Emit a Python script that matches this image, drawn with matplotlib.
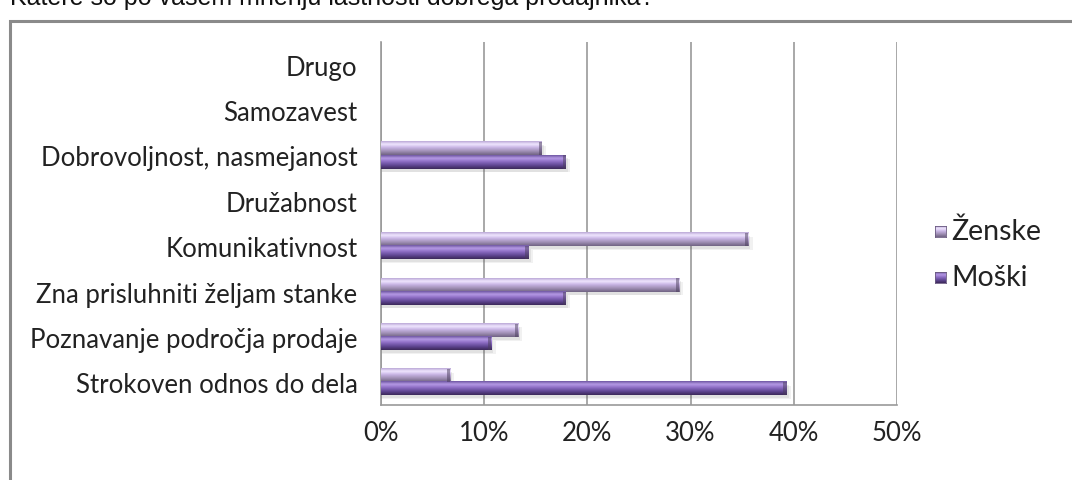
import numpy as np
import matplotlib
matplotlib.use("Agg")
import matplotlib.pyplot as plt
from matplotlib.colors import LinearSegmentedColormap
from matplotlib.patches import Rectangle

# Survey answers, bottom to top
categories = [
    "Strokoven odnos do dela",
    "Poznavanje področja prodaje",
    "Zna prisluhniti željam stanke",
    "Komunikativnost",
    "Družabnost",
    "Dobrovoljnost, nasmejanost",
    "Samozavest",
    "Drugo",
]
zenske = [0.067, 0.133, 0.289, 0.356, 0.0, 0.156, 0.0, 0.0]
moski = [0.393, 0.107, 0.179, 0.143, 0.0, 0.179, 0.0, 0.0]
x_ticks = [0.0, 0.1, 0.2, 0.3, 0.4, 0.5]
x_tick_labels = ["0%", "10%", "20%", "30%", "40%", "50%"]
series_names = ["Ženske", "Moški"]
title = "Katere so po vašem mnenju lastnosti dobrega prodajnika?"

W, H = 1072, 481
fig = plt.figure(figsize=(W / 100, H / 100), dpi=100)
fig.patch.set_facecolor("white")

label_font = "Lato"
label_size = 18.5

# Outer chart frame (runs off the right and bottom edges)
fig.patches.append(Rectangle((10 / W, -0.05), 1.2, 1 - 22 / H + 0.05,
                             transform=fig.transFigure, fill=False,
                             edgecolor="#8a8a8a", lw=2.2, zorder=0))
fig.text(10 / W, 1 - 5.5 / H, title, fontsize=18, family="Liberation Sans",
         va="baseline", ha="left", color="#111111")

ax = fig.add_axes([381 / W, 1 - 406 / H, 516 / W, 363 / H])
ax.set_facecolor("none")

# vertical gradients for the bevelled bars (bottom -> top)
cmap_z = LinearSegmentedColormap.from_list(
    "z", [(0.0, "#6f6282"), (0.25, "#9c8cb0"), (0.55, "#c9b5e6"),
          (0.78, "#f1e8ff"), (1.0, "#b9a6d6")])
cmap_m = LinearSegmentedColormap.from_list(
    "m", [(0.0, "#3b2858"), (0.25, "#5e4590"), (0.55, "#8f6fc6"),
          (0.78, "#b79be6"), (1.0, "#6c54a0")])
grad = np.linspace(0, 1, 64).reshape(-1, 1)

y = np.arange(len(categories))
h = 0.29
bars_z = ax.barh(y + h / 2, zenske, height=h, color="#c9b5e6", zorder=2)
bars_m = ax.barh(y - h / 2, moski, height=h, color="#8f6fc6", zorder=2)

for bars, cmap in ((bars_z, cmap_z), (bars_m, cmap_m)):
    for b in bars:
        w = b.get_width()
        if w <= 0:
            continue
        y0, bh = b.get_y(), b.get_height()
        # soft drop shadow
        for k, a in ((0.004, 0.08), (0.002, 0.10)):
            ax.add_patch(Rectangle((0, y0 - 0.05 - k * 8), w + k, bh,
                                   color="#555555", alpha=a, lw=0, zorder=1.5))
        ax.imshow(grad, extent=[0, w, y0, y0 + bh], origin="lower",
                  cmap=cmap, aspect="auto", interpolation="bicubic", zorder=3)
        # darker bevel at the bar end
        ax.add_patch(Rectangle((w - 0.003, y0), 0.003, bh,
                               color="#4a3d5c", alpha=0.5, lw=0, zorder=4))

ax.set_xlim(0, 0.5)
ax.set_ylim(-0.5, len(categories) - 0.5)
ax.set_aspect("auto")

ax.set_xticks(x_ticks)
ax.set_xticklabels(x_tick_labels, family=label_font, fontsize=label_size,
                   color="#222222")
ax.set_yticks(y)
ax.set_yticklabels(categories, family=label_font, fontsize=label_size,
                   color="#222222")
ax.tick_params(axis="both", length=0)
ax.tick_params(axis="x", pad=11)
ax.tick_params(axis="y", pad=17)

ax.grid(axis="x", color="#9a9a9a", lw=1.2, zorder=0)
ax.set_axisbelow(True)
for s in ("top", "right"):
    ax.spines[s].set_visible(False)
for s in ("left", "bottom"):
    ax.spines[s].set_color("#9a9a9a")
    ax.spines[s].set_linewidth(1.2)

# Legend
for i, (name, cmap) in enumerate(zip(series_names, (cmap_z, cmap_m))):
    yy = 1 - (232 + 46 * i) / H
    lax = fig.add_axes([935 / W, yy - 5.5 / H, 11 / W, 11 / H])
    lax.imshow(grad, cmap=cmap, origin="lower", aspect="auto",
               interpolation="bicubic")
    lax.set_xticks([])
    lax.set_yticks([])
    for sp in lax.spines.values():
        sp.set_color("#6a5a80")
        sp.set_linewidth(0.6)
    fig.text(951 / W, yy, name, family=label_font, fontsize=20.5,
             va="center", ha="left", color="#222222")

fig.savefig("out.png", dpi=100)
